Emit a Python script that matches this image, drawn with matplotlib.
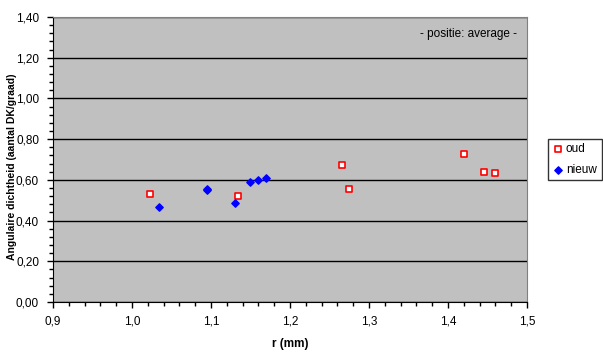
import matplotlib
matplotlib.use("Agg")
import matplotlib.pyplot as plt
from matplotlib.ticker import MultipleLocator, FuncFormatter

plt.rcParams['font.family'] = ['Liberation Sans', 'DejaVu Sans']

# data
oud_r = [1.023, 1.134, 1.266, 1.275, 1.420, 1.446, 1.459]
oud_d = [0.530, 0.520, 0.675, 0.555, 0.727, 0.640, 0.635]
nieuw_r = [1.034, 1.095, 1.095, 1.130, 1.150, 1.160, 1.170]
nieuw_d = [0.467, 0.549, 0.556, 0.488, 0.591, 0.600, 0.611]

fig = plt.figure(figsize=(6.03, 3.54), dpi=100)
ax = fig.add_axes([0.0879, 0.147, 0.786, 0.805])
ax.set_facecolor('#C0C0C0')

ax.scatter(oud_r, oud_d, marker='s', s=22, facecolor='white', edgecolor='#FF0000',
           linewidth=1.2, label='oud', zorder=3)
ax.scatter(nieuw_r, nieuw_d, marker='D', s=14, color='#0000FF', label='nieuw', zorder=3)

ax.set_xlim(0.9, 1.5)
ax.set_ylim(0, 1.4)
ax.xaxis.set_major_locator(MultipleLocator(0.1))
ax.xaxis.set_minor_locator(MultipleLocator(0.02))
ax.yaxis.set_major_locator(MultipleLocator(0.2))
ax.yaxis.set_minor_locator(MultipleLocator(0.04))
ax.xaxis.set_major_formatter(FuncFormatter(lambda v, p: f"{v:.1f}".replace('.', ',')))
ax.yaxis.set_major_formatter(FuncFormatter(lambda v, p: f"{v:.2f}".replace('.', ',')))
ax.tick_params(axis='both', which='major', direction='out', length=4, width=1, labelsize=8.5, pad=6)
ax.tick_params(axis='both', which='minor', direction='out', length=3, width=1)

ax.yaxis.grid(True, which='major', color='black', linewidth=1)
ax.set_axisbelow(True)

for s in ['top', 'right']:
    ax.spines[s].set_color('#808080')
for s in ['left', 'bottom']:
    ax.spines[s].set_color('black')

ax.set_xlabel('r (mm)', fontsize=8.5, fontweight='bold', labelpad=7)
fig.text(12 / 603, 0.53, 'Angulaire dichtheid (aantal DK/graad)', rotation=90,
         ha='center', va='center', fontsize=7.5, fontweight='bold')

ax.text(0.98, 0.94, '- positie: average -', transform=ax.transAxes, ha='right', va='center',
        fontsize=8.5)

leg = ax.legend(loc='center left', bbox_to_anchor=(1.045, 0.5), fontsize=8.5, frameon=True,
                fancybox=False, edgecolor='black', handletextpad=0.2, borderpad=0.4,
                handlelength=0.9, labelspacing=0.7, borderaxespad=0)
leg.get_frame().set_linewidth(1)

fig.savefig('out.png', dpi=100)
